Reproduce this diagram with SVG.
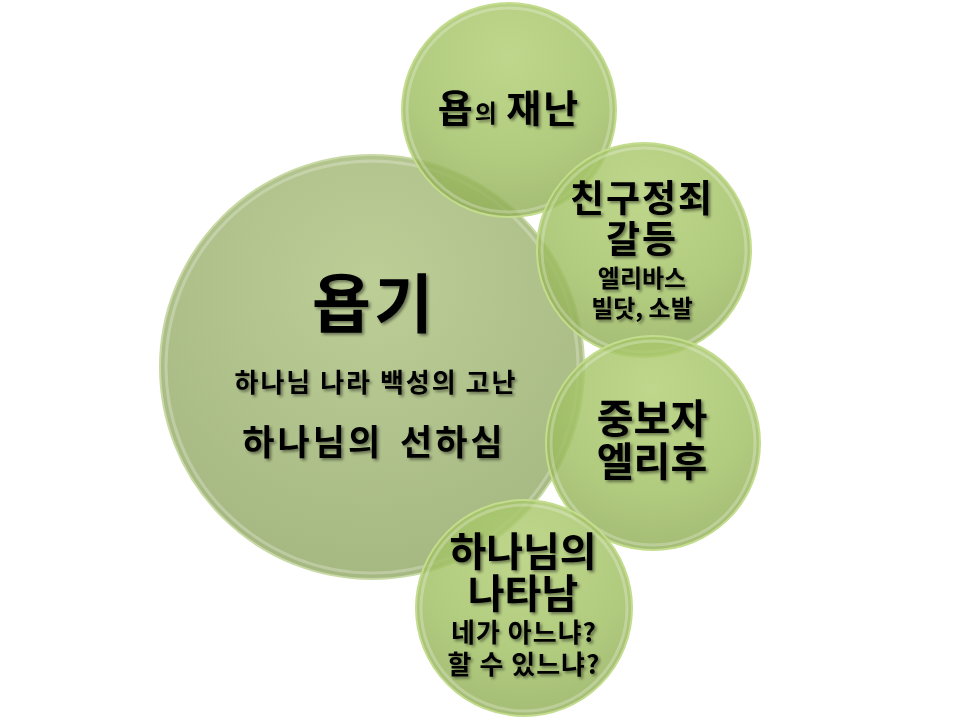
<svg xmlns="http://www.w3.org/2000/svg" width="960" height="720" viewBox="0 0 960 720">
<defs>
<radialGradient id="gBig" cx="50%" cy="30%" r="75%">
<stop offset="0" stop-color="#b9cb91"/>
<stop offset="1" stop-color="#a0b37a"/>
</radialGradient>
<radialGradient id="gSm" cx="50%" cy="25%" r="80%">
<stop offset="0" stop-color="#b0ce72"/>
<stop offset="0.6" stop-color="#9fbf62"/>
<stop offset="1" stop-color="#8eab55"/>
</radialGradient>
<filter id="sh" x="-10%" y="-10%" width="120%" height="130%">
<feGaussianBlur in="SourceAlpha" stdDeviation="1.5"/>
<feOffset dx="2" dy="2" result="b"/>
<feComponentTransfer><feFuncA type="linear" slope="0.45"/></feComponentTransfer>
<feMerge><feMergeNode/><feMergeNode in="SourceGraphic"/></feMerge>
</filter>
</defs>
<style>
.big{fill:url(#gBig);fill-opacity:0.95;stroke:#c9d9a6;stroke-width:2}
.sm{fill:url(#gSm);fill-opacity:0.82;stroke:#c4dc8e;stroke-width:2}
.rim{fill:none;stroke:#ffffff;stroke-opacity:0.25;stroke-width:3}
text{font-family:"Noto Sans CJK KR","Noto Sans",sans-serif;font-weight:bold;fill:#000;text-anchor:middle;filter:url(#sh)}
</style>
<g id="main">
<circle class="big" cx="372" cy="367" r="212"/>
<circle class="rim" cx="372" cy="367" r="206"/>
<text x="374" y="327" font-size="64" letter-spacing="3">욥기</text>
<text x="376" y="392" font-size="26" letter-spacing="2">하나님 나라 백성의 고난</text>
<text x="374" y="455" font-size="35" letter-spacing="3" word-spacing="6">하나님의 선하심</text>
</g>
<g id="n1">
<circle class="sm" cx="509" cy="110" r="107"/>
<circle class="rim" cx="509" cy="110" r="102"/>
<text x="509" y="122" letter-spacing="2"><tspan font-size="38">욥</tspan><tspan font-size="24">의 </tspan><tspan font-size="38">재난</tspan></text>
</g>
<g id="n2">
<circle class="sm" cx="644" cy="250" r="107"/>
<circle class="rim" cx="644" cy="250" r="102"/>
<text x="642" y="212" font-size="37" letter-spacing="2">친구정죄</text>
<text x="642" y="253" font-size="37" letter-spacing="2">갈등</text>
<text x="642" y="287" font-size="24">엘리바스</text>
<text x="642" y="317" font-size="24">빌닷, 소발</text>
</g>
<g id="n3">
<circle class="sm" cx="653" cy="443" r="107"/>
<circle class="rim" cx="653" cy="443" r="102"/>
<text x="652" y="433" font-size="40">중보자</text>
<text x="652" y="476" font-size="40">엘리후</text>
</g>
<g id="n4">
<circle class="sm" cx="524" cy="608" r="108"/>
<circle class="rim" cx="524" cy="608" r="103"/>
<text x="523" y="566" font-size="40">하나님의</text>
<text x="523" y="608" font-size="40">나타남</text>
<text x="524" y="642" font-size="26" letter-spacing="1">네가 아느냐?</text>
<text x="524" y="674" font-size="26" letter-spacing="1">할 수 있느냐?</text>
</g>
<g id="connectors"/>
</svg>
